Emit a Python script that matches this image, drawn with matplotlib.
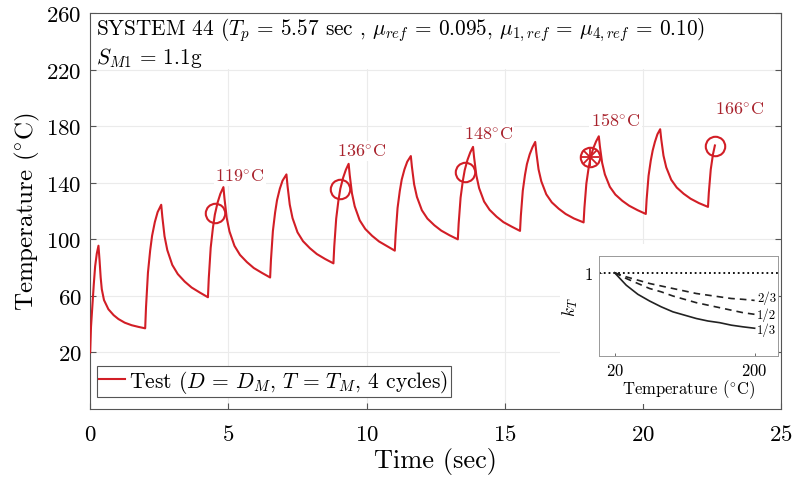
import matplotlib
matplotlib.use("Agg")
import matplotlib.pyplot as plt
from matplotlib.patches import Rectangle

plt.rcParams['font.family'] = 'serif'
plt.rcParams['font.serif'] = ['cmr10', 'DejaVu Serif']
plt.rcParams['mathtext.fontset'] = 'cm'
plt.rcParams['axes.formatter.use_mathtext'] = True
plt.rcParams['axes.unicode_minus'] = False

# test temperature history (one heating/cooling cycle per row)
time = [0.00, 0.03, 0.08, 0.13, 0.18, 0.24, 0.30, 0.34, 0.38, 0.42, 0.50, 0.66, 0.85, 1.02, 1.25, 1.50, 1.75,
        1.99, 2.02, 2.09, 2.17, 2.24, 2.34, 2.44, 2.57, 2.61, 2.69, 2.79, 2.97, 3.17, 3.42, 3.67, 3.97,
        4.26, 4.29, 4.36, 4.44, 4.51, 4.61, 4.71, 4.82, 4.86, 4.94, 5.04, 5.22, 5.42, 5.67, 5.92, 6.22,
        6.51, 6.54, 6.61, 6.69, 6.76, 6.86, 6.96, 7.10, 7.14, 7.22, 7.32, 7.50, 7.70, 7.95, 8.20, 8.50,
        8.80, 8.83, 8.90, 8.98, 9.05, 9.15, 9.25, 9.35, 9.39, 9.47, 9.57, 9.75, 9.95, 10.20, 10.45, 10.75,
        11.02, 11.05, 11.12, 11.20, 11.27, 11.37, 11.47, 11.60, 11.64, 11.72, 11.82, 12.00, 12.20, 12.45, 12.70, 13.00,
        13.30, 13.33, 13.40, 13.48, 13.55, 13.65, 13.75, 13.85, 13.89, 13.97, 14.07, 14.25, 14.45, 14.70, 14.95, 15.25,
        15.55, 15.58, 15.65, 15.73, 15.80, 15.90, 16.00, 16.10, 16.14, 16.22, 16.32, 16.50, 16.70, 16.95, 17.20, 17.50,
        17.85, 17.88, 17.95, 18.03, 18.10, 18.20, 18.30, 18.40, 18.44, 18.52, 18.62, 18.80, 19.00, 19.25, 19.50, 19.80,
        20.10, 20.13, 20.20, 20.28, 20.35, 20.43, 20.52, 20.62, 20.66, 20.74, 20.84, 21.02, 21.22, 21.47, 21.72, 22.02,
        22.35, 22.38, 22.45, 22.53, 22.60]
temp = [20.0, 38.0, 53.0, 68.0, 81.0, 90.0, 95.5, 85.0, 73.0, 64.7, 57.0, 50.5, 46.3, 43.6, 41.0, 39.2, 38.0,
        37.0, 51.9, 76.4, 92.1, 102.6, 112.3, 119.3, 124.5, 116.0, 102.2, 92.4, 81.9, 75.4, 70.1, 65.9, 62.3,
        59.0, 72.3, 94.1, 108.1, 117.5, 126.1, 132.3, 137.0, 128.7, 115.2, 105.6, 95.4, 89.0, 83.9, 79.7, 76.2,
        73.0, 85.4, 105.9, 119.0, 127.8, 135.8, 141.6, 146.0, 137.8, 124.6, 115.1, 105.0, 98.7, 93.7, 89.6, 86.1,
        83.0, 95.0, 114.7, 127.4, 135.9, 143.6, 149.3, 153.5, 145.5, 132.6, 123.4, 113.5, 107.4, 102.5, 98.5, 95.1,
        92.0, 103.4, 122.2, 134.2, 142.3, 149.6, 155.0, 159.0, 151.3, 138.9, 130.1, 120.6, 114.7, 110.0, 106.2, 102.9,
        100.0, 111.1, 129.5, 141.3, 149.1, 156.3, 161.6, 165.5, 157.8, 145.3, 136.3, 126.8, 120.9, 116.1, 112.2, 109.0,
        106.0, 116.7, 134.4, 145.7, 153.3, 160.2, 165.2, 169.0, 161.6, 149.6, 141.1, 131.9, 126.2, 121.7, 118.0, 114.8,
        112.0, 122.4, 139.5, 150.4, 157.8, 164.5, 169.3, 173.0, 165.8, 154.3, 146.0, 137.2, 131.7, 127.3, 123.8, 120.7,
        118.0, 128.2, 145.0, 155.8, 163.0, 169.0, 174.4, 178.0, 170.8, 159.3, 151.0, 142.2, 136.7, 132.3, 128.8, 125.7,
        123.0, 133.0, 149.5, 160.2, 166.5]

# end-of-cycle markers and labels
mark_t = [4.52, 9.04, 13.56, 18.08, 22.60]
mark_T = [119, 136, 148, 158, 166]
label_t = [5.42, 9.84, 14.4, 19.0, 23.5]
label_T = [145, 162.5, 175, 185, 192.5]

# inset: temperature reduction factor k_T
kt_temp = [20, 35, 50, 65, 80, 95, 110, 125, 140, 155, 170, 185, 200]
kt_13 = [1.0, 0.85, 0.74, 0.66, 0.59, 0.53, 0.49, 0.45, 0.42, 0.40, 0.37, 0.35, 0.333]
kt_12 = [1.0, 0.93, 0.87, 0.81, 0.77, 0.72, 0.68, 0.64, 0.61, 0.58, 0.55, 0.52, 0.50]
kt_23 = [1.0, 0.95, 0.91, 0.87, 0.84, 0.81, 0.78, 0.75, 0.73, 0.71, 0.69, 0.68, 0.667]
kt_names = ['1/3', '1/2', '2/3']

red = '#d21e26'
dark_red = '#a8222c'
frame = '#555555'

fig = plt.figure(figsize=(7.98, 4.81), dpi=100)
ax = fig.add_axes([0.113, 0.148, 0.866, 0.822])

ax.plot(time, temp, color=red, lw=1.5, label=r'Test ($D$ = $D_M$, $T$ = $T_M$, 4 cycles)', zorder=3)
ax.plot(mark_t, mark_T, ls='none', marker='o', ms=14, mfc='none', mec=red, mew=1.5, zorder=4)
ax.plot(mark_t[3], mark_T[3], marker='+', ms=13, mec=red, mew=1.3, zorder=4)
ax.plot(mark_t[3], mark_T[3], marker='x', ms=9.5, mec=red, mew=1.3, zorder=4)
for lt, lT, m in zip(label_t, label_T, mark_T):
    ax.text(lt, lT, str(m) + r'$^{\circ}$C', color=dark_red, fontsize=13,
            ha='center', va='center', zorder=5,
            bbox=dict(facecolor='white', edgecolor='none', pad=1))

ax.set_xlim(0, 25)
ax.set_ylim(-20, 260)
ax.set_xticks([0, 5, 10, 15, 20, 25])
ax.set_yticks([20, 60, 100, 140, 180, 220, 260])
ax.grid(True, color='#ebebeb', lw=0.8)
ax.set_axisbelow(True)
ax.tick_params(direction='in', top=True, right=True, length=4, width=0.8,
               color=frame, labelsize=16.5)
ax.tick_params(axis='x', pad=11)
ax.tick_params(axis='y', pad=6)
for s in ax.spines.values():
    s.set_color(frame)
    s.set_linewidth(0.8)
ax.set_xlabel('Time (sec)', fontsize=19, labelpad=2)
ax.set_ylabel(r'Temperature ($^{\circ}$C)', fontsize=18, labelpad=3)

# white box behind the header text
ax.add_patch(Rectangle((0, 0.86), 0.922, 0.14, transform=ax.transAxes,
                       facecolor='white', edgecolor='none', zorder=2))
ax.text(0.008, 0.995,
        r'SYSTEM 44 ($T_p$ = 5.57 sec , $\mu_{ref}$ = 0.095, $\mu_{1,ref}$ = $\mu_{4,ref}$ = 0.10)'
        '\n' r'$S_{M1}$ = 1.1g',
        transform=ax.transAxes, ha='left', va='top', fontsize=15.3,
        linespacing=1.15, zorder=5)

leg = ax.legend(loc='lower left', bbox_to_anchor=(0.01, 0.03), fontsize=15.5,
                handlelength=1.2, handletextpad=0.2, borderpad=0.1,
                borderaxespad=0, fancybox=False, framealpha=1)
leg.get_frame().set_edgecolor(frame)
leg.get_frame().set_linewidth(0.8)

# white area behind the inset and its labels
fig.patches.append(Rectangle((560 / 798, 1 - 405 / 481), 218 / 798, 160 / 481,
                             transform=fig.transFigure, facecolor='white',
                             edgecolor='none', zorder=0.5))

ins = fig.add_axes([0.7506, 0.2578, 0.2243, 0.2079], zorder=1)
ins.axhline(1.0, color='black', ls=':', lw=1.3)
ins.plot(kt_temp, kt_13, color='#222222', lw=1.2)
ins.plot(kt_temp, kt_12, color='#222222', lw=1.2, dashes=(4, 3))
ins.plot(kt_temp, kt_23, color='#222222', lw=1.2, dashes=(4, 3))
for kv, name, dy in zip([kt_13[-1], kt_12[-1], kt_23[-1]], kt_names, [-1, 0, 2]):
    ins.annotate(name, (203, kv), xytext=(0, dy), textcoords='offset points',
                 fontsize=9.2, ha='left', va='center', annotation_clip=False)
ins.set_xlim(0, 230)
ins.set_ylim(0, 1.2)
ins.set_xticks([20, 200])
ins.set_yticks([1])
ins.tick_params(direction='in', length=2, width=0.6, color=frame, labelsize=12, pad=4)
for s in ins.spines.values():
    s.set_color('#999999')
    s.set_linewidth(0.7)
ins.set_xlabel(r'Temperature ($^{\circ}$C)', fontsize=12, labelpad=0)
ins.set_ylabel(r'$k_T$', fontsize=12.5, labelpad=3)

fig.savefig('out.png', dpi=100)
